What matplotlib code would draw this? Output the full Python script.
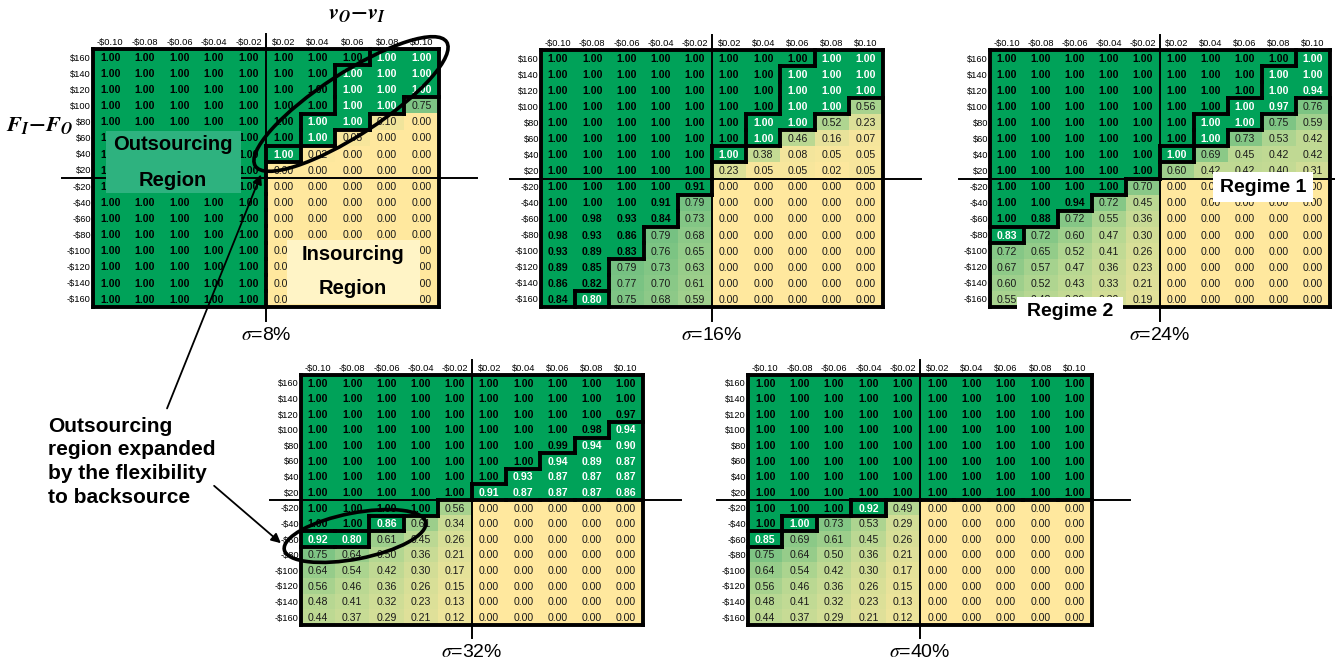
import numpy as np
import matplotlib.pyplot as plt
from matplotlib.colors import LinearSegmentedColormap, ListedColormap
from matplotlib.collections import LineCollection
from matplotlib.patches import Ellipse, Rectangle

plt.rcParams['font.family'] = ['Liberation Sans', 'DejaVu Sans']

W, H = 1335, 664

col_labels = [r'-\$0.10', r'-\$0.08', r'-\$0.06', r'-\$0.04', r'-\$0.02',
              r'\$0.02', r'\$0.04', r'\$0.06', r'\$0.08', r'\$0.10']
row_labels = [r'\$160', r'\$140', r'\$120', r'\$100', r'\$80', r'\$60', r'\$40', r'\$20',
              r'-\$20', r'-\$40', r'-\$60', r'-\$80', r'-\$100', r'-\$120', r'-\$140', r'-\$160']

# probability of outsourcing, sigma = 8%
vals_8 = [
    [1.00, 1.00, 1.00, 1.00, 1.00, 1.00, 1.00, 1.00, 1.00, 1.00],
    [1.00, 1.00, 1.00, 1.00, 1.00, 1.00, 1.00, 1.00, 1.00, 1.00],
    [1.00, 1.00, 1.00, 1.00, 1.00, 1.00, 1.00, 1.00, 1.00, 1.00],
    [1.00, 1.00, 1.00, 1.00, 1.00, 1.00, 1.00, 1.00, 1.00, 0.75],
    [1.00, 1.00, 1.00, 1.00, 1.00, 1.00, 1.00, 1.00, 0.10, 0.00],
    [1.00, 1.00, 1.00, 1.00, 1.00, 1.00, 1.00, 0.05, 0.00, 0.00],
    [1.00, 1.00, 1.00, 1.00, 1.00, 1.00, 0.02, 0.00, 0.00, 0.00],
    [1.00, 1.00, 1.00, 1.00, 1.00, 0.00, 0.00, 0.00, 0.00, 0.00],
    [1.00, 1.00, 1.00, 1.00, 1.00, 0.00, 0.00, 0.00, 0.00, 0.00],
    [1.00, 1.00, 1.00, 1.00, 1.00, 0.00, 0.00, 0.00, 0.00, 0.00],
    [1.00, 1.00, 1.00, 1.00, 1.00, 0.00, 0.00, 0.00, 0.00, 0.00],
    [1.00, 1.00, 1.00, 1.00, 1.00, 0.00, 0.00, 0.00, 0.00, 0.00],
    [1.00, 1.00, 1.00, 1.00, 1.00, 0.00, 0.00, 0.00, 0.00, 0.00],
    [1.00, 1.00, 1.00, 1.00, 1.00, 0.00, 0.00, 0.00, 0.00, 0.00],
    [1.00, 1.00, 1.00, 1.00, 1.00, 0.00, 0.00, 0.00, 0.00, 0.00],
    [1.00, 1.00, 1.00, 1.00, 1.00, 0.00, 0.00, 0.00, 0.00, 0.00],
]
# A = outsourcing region (bold black), B = expanded region (bold white), C = other
regions_8 = ['AAAAAAAABB', 'AAAAAAABBB', 'AAAAAAABBB', 'AAAAAAABBC',
             'AAAAAABBCC', 'AAAAAABCCC', 'AAAAABCCCC', 'AAAAACCCCC',
             'AAAAACCCCC', 'AAAAACCCCC', 'AAAAACCCCC', 'AAAAACCCCC',
             'AAAAACCCCC', 'AAAAACCCCC', 'AAAAACCCCC', 'AAAAACCCCC']

vals_16 = [
    [1.00, 1.00, 1.00, 1.00, 1.00, 1.00, 1.00, 1.00, 1.00, 1.00],
    [1.00, 1.00, 1.00, 1.00, 1.00, 1.00, 1.00, 1.00, 1.00, 1.00],
    [1.00, 1.00, 1.00, 1.00, 1.00, 1.00, 1.00, 1.00, 1.00, 1.00],
    [1.00, 1.00, 1.00, 1.00, 1.00, 1.00, 1.00, 1.00, 1.00, 0.56],
    [1.00, 1.00, 1.00, 1.00, 1.00, 1.00, 1.00, 1.00, 0.52, 0.23],
    [1.00, 1.00, 1.00, 1.00, 1.00, 1.00, 1.00, 0.46, 0.16, 0.07],
    [1.00, 1.00, 1.00, 1.00, 1.00, 1.00, 0.38, 0.08, 0.05, 0.05],
    [1.00, 1.00, 1.00, 1.00, 1.00, 0.23, 0.05, 0.05, 0.02, 0.05],
    [1.00, 1.00, 1.00, 1.00, 0.91, 0.00, 0.00, 0.00, 0.00, 0.00],
    [1.00, 1.00, 1.00, 0.91, 0.79, 0.00, 0.00, 0.00, 0.00, 0.00],
    [1.00, 0.98, 0.93, 0.84, 0.73, 0.00, 0.00, 0.00, 0.00, 0.00],
    [0.98, 0.93, 0.86, 0.79, 0.68, 0.00, 0.00, 0.00, 0.00, 0.00],
    [0.93, 0.89, 0.83, 0.76, 0.65, 0.00, 0.00, 0.00, 0.00, 0.00],
    [0.89, 0.85, 0.79, 0.73, 0.63, 0.00, 0.00, 0.00, 0.00, 0.00],
    [0.86, 0.82, 0.77, 0.70, 0.61, 0.00, 0.00, 0.00, 0.00, 0.00],
    [0.84, 0.80, 0.75, 0.68, 0.59, 0.00, 0.00, 0.00, 0.00, 0.00],
]
regions_16 = ['AAAAAAAABB', 'AAAAAAABBB', 'AAAAAAABBB', 'AAAAAAABBC',
              'AAAAAABBCC', 'AAAAAABCCC', 'AAAAABCCCC', 'AAAAACCCCC',
              'AAAAACCCCC', 'AAAACCCCCC', 'AAAACCCCCC', 'AAACCCCCCC',
              'AAACCCCCCC', 'AACCCCCCCC', 'AACCCCCCCC', 'ABCCCCCCCC']

vals_24 = [
    [1.00, 1.00, 1.00, 1.00, 1.00, 1.00, 1.00, 1.00, 1.00, 1.00],
    [1.00, 1.00, 1.00, 1.00, 1.00, 1.00, 1.00, 1.00, 1.00, 1.00],
    [1.00, 1.00, 1.00, 1.00, 1.00, 1.00, 1.00, 1.00, 1.00, 0.94],
    [1.00, 1.00, 1.00, 1.00, 1.00, 1.00, 1.00, 1.00, 0.97, 0.76],
    [1.00, 1.00, 1.00, 1.00, 1.00, 1.00, 1.00, 1.00, 0.75, 0.59],
    [1.00, 1.00, 1.00, 1.00, 1.00, 1.00, 1.00, 0.73, 0.53, 0.42],
    [1.00, 1.00, 1.00, 1.00, 1.00, 1.00, 0.69, 0.45, 0.42, 0.42],
    [1.00, 1.00, 1.00, 1.00, 1.00, 0.60, 0.42, 0.42, 0.40, 0.31],
    [1.00, 1.00, 1.00, 1.00, 0.70, 0.00, 0.00, 0.00, 0.00, 0.00],
    [1.00, 1.00, 0.94, 0.72, 0.45, 0.00, 0.00, 0.00, 0.00, 0.00],
    [1.00, 0.88, 0.72, 0.55, 0.36, 0.00, 0.00, 0.00, 0.00, 0.00],
    [0.83, 0.72, 0.60, 0.47, 0.30, 0.00, 0.00, 0.00, 0.00, 0.00],
    [0.72, 0.65, 0.52, 0.41, 0.26, 0.00, 0.00, 0.00, 0.00, 0.00],
    [0.67, 0.57, 0.47, 0.36, 0.23, 0.00, 0.00, 0.00, 0.00, 0.00],
    [0.60, 0.52, 0.43, 0.33, 0.21, 0.00, 0.00, 0.00, 0.00, 0.00],
    [0.55, 0.48, 0.39, 0.30, 0.19, 0.00, 0.00, 0.00, 0.00, 0.00],
]
regions_24 = ['AAAAAAAAAB', 'AAAAAAAABB', 'AAAAAAAABB', 'AAAAAAABBC',
              'AAAAAABBCC', 'AAAAAABCCC', 'AAAAABCCCC', 'AAAAACCCCC',
              'AAAACCCCCC', 'AAACCCCCCC', 'AACCCCCCCC', 'BCCCCCCCCC',
              'CCCCCCCCCC', 'CCCCCCCCCC', 'CCCCCCCCCC', 'CCCCCCCCCC']

vals_32 = [
    [1.00, 1.00, 1.00, 1.00, 1.00, 1.00, 1.00, 1.00, 1.00, 1.00],
    [1.00, 1.00, 1.00, 1.00, 1.00, 1.00, 1.00, 1.00, 1.00, 1.00],
    [1.00, 1.00, 1.00, 1.00, 1.00, 1.00, 1.00, 1.00, 1.00, 0.97],
    [1.00, 1.00, 1.00, 1.00, 1.00, 1.00, 1.00, 1.00, 0.98, 0.94],
    [1.00, 1.00, 1.00, 1.00, 1.00, 1.00, 1.00, 0.99, 0.94, 0.90],
    [1.00, 1.00, 1.00, 1.00, 1.00, 1.00, 1.00, 0.94, 0.89, 0.87],
    [1.00, 1.00, 1.00, 1.00, 1.00, 1.00, 0.93, 0.87, 0.87, 0.87],
    [1.00, 1.00, 1.00, 1.00, 1.00, 0.91, 0.87, 0.87, 0.87, 0.86],
    [1.00, 1.00, 1.00, 1.00, 0.56, 0.00, 0.00, 0.00, 0.00, 0.00],
    [1.00, 1.00, 0.86, 0.61, 0.34, 0.00, 0.00, 0.00, 0.00, 0.00],
    [0.92, 0.80, 0.61, 0.45, 0.26, 0.00, 0.00, 0.00, 0.00, 0.00],
    [0.75, 0.64, 0.50, 0.36, 0.21, 0.00, 0.00, 0.00, 0.00, 0.00],
    [0.64, 0.54, 0.42, 0.30, 0.17, 0.00, 0.00, 0.00, 0.00, 0.00],
    [0.56, 0.46, 0.36, 0.26, 0.15, 0.00, 0.00, 0.00, 0.00, 0.00],
    [0.48, 0.41, 0.32, 0.23, 0.13, 0.00, 0.00, 0.00, 0.00, 0.00],
    [0.44, 0.37, 0.29, 0.21, 0.12, 0.00, 0.00, 0.00, 0.00, 0.00],
]
regions_32 = ['AAAAAAAAAA', 'AAAAAAAAAA', 'AAAAAAAAAA', 'AAAAAAAAAB',
              'AAAAAAAABB', 'AAAAAAABBB', 'AAAAAABBBB', 'AAAAABBBBB',
              'AAAACCCCCC', 'AABCCCCCCC', 'BBCCCCCCCC', 'CCCCCCCCCC',
              'CCCCCCCCCC', 'CCCCCCCCCC', 'CCCCCCCCCC', 'CCCCCCCCCC']

vals_40 = [
    [1.00, 1.00, 1.00, 1.00, 1.00, 1.00, 1.00, 1.00, 1.00, 1.00],
    [1.00, 1.00, 1.00, 1.00, 1.00, 1.00, 1.00, 1.00, 1.00, 1.00],
    [1.00, 1.00, 1.00, 1.00, 1.00, 1.00, 1.00, 1.00, 1.00, 1.00],
    [1.00, 1.00, 1.00, 1.00, 1.00, 1.00, 1.00, 1.00, 1.00, 1.00],
    [1.00, 1.00, 1.00, 1.00, 1.00, 1.00, 1.00, 1.00, 1.00, 1.00],
    [1.00, 1.00, 1.00, 1.00, 1.00, 1.00, 1.00, 1.00, 1.00, 1.00],
    [1.00, 1.00, 1.00, 1.00, 1.00, 1.00, 1.00, 1.00, 1.00, 1.00],
    [1.00, 1.00, 1.00, 1.00, 1.00, 1.00, 1.00, 1.00, 1.00, 1.00],
    [1.00, 1.00, 1.00, 0.92, 0.49, 0.00, 0.00, 0.00, 0.00, 0.00],
    [1.00, 1.00, 0.73, 0.53, 0.29, 0.00, 0.00, 0.00, 0.00, 0.00],
    [0.85, 0.69, 0.61, 0.45, 0.26, 0.00, 0.00, 0.00, 0.00, 0.00],
    [0.75, 0.64, 0.50, 0.36, 0.21, 0.00, 0.00, 0.00, 0.00, 0.00],
    [0.64, 0.54, 0.42, 0.30, 0.17, 0.00, 0.00, 0.00, 0.00, 0.00],
    [0.56, 0.46, 0.36, 0.26, 0.15, 0.00, 0.00, 0.00, 0.00, 0.00],
    [0.48, 0.41, 0.32, 0.23, 0.13, 0.00, 0.00, 0.00, 0.00, 0.00],
    [0.44, 0.37, 0.29, 0.21, 0.12, 0.00, 0.00, 0.00, 0.00, 0.00],
]
regions_40 = ['AAAAAAAAAA', 'AAAAAAAAAA', 'AAAAAAAAAA', 'AAAAAAAAAA',
              'AAAAAAAAAA', 'AAAAAAAAAA', 'AAAAAAAAAA', 'AAAAAAAAAA',
              'AAABCCCCCC', 'ABCCCCCCCC', 'BCCCCCCCCC', 'CCCCCCCCCC',
              'CCCCCCCCCC', 'CCCCCCCCCC', 'CCCCCCCCCC', 'CCCCCCCCCC']

sigmas = ['8%', '16%', '24%', '32%', '40%']

DARK = '#00A259'
cmap = LinearSegmentedColormap.from_list('yg', ['#FFE89E', '#B4D792', '#4AB377'])

fig = plt.figure(figsize=(W / 100, H / 100), dpi=100)


def draw_panel(left, top, w, h, vals, regions, sigma):
    ax = fig.add_axes([left / W, 1 - (top + h) / H, w / W, h / H])
    v = np.array(vals)
    nr, nc = v.shape
    ax.imshow(v, cmap=cmap, vmin=0, vmax=1, extent=(0, nc, nr, 0),
              aspect='auto', interpolation='nearest')
    strong = np.array([[c in 'AB' for c in r] for r in regions])
    ax.imshow(np.ma.masked_where(~strong, v), cmap=ListedColormap([DARK]),
              extent=(0, nc, nr, 0), aspect='auto', interpolation='nearest')
    ax.set_xlim(0, nc)
    ax.set_ylim(nr, 0)

    ax.set_xticks(np.arange(nc) + 0.5)
    ax.set_xticklabels(col_labels, fontsize=6.7)
    ax.set_yticks(np.arange(nr) + 0.5)
    ax.set_yticklabels(row_labels, fontsize=6.7)
    ax.xaxis.tick_top()
    ax.tick_params(length=0, pad=1.5)
    for s in ax.spines.values():
        s.set_visible(False)

    for i in range(nr):
        for j in range(nc):
            c = regions[i][j]
            if c == 'A':
                kw = dict(color='black', fontweight='bold')
            elif c == 'B':
                kw = dict(color='white', fontweight='bold')
            else:
                kw = dict(color='#1a1a1a')
            ax.text(j + 0.5, i + 0.55, f'{v[i, j]:.2f}', ha='center', va='center',
                    fontsize=7.6, **kw)

    # thick outlines around the two regions
    segs = []
    for i in range(nr):
        for j in range(nc):
            c = regions[i][j]
            if j < nc - 1:
                n = regions[i][j + 1]
                if n != c and (c in 'AB' or n in 'AB'):
                    segs.append([(j + 1, i), (j + 1, i + 1)])
            if i < nr - 1:
                n = regions[i + 1][j]
                if n != c and (c in 'AB' or n in 'AB'):
                    segs.append([(j, i + 1), (j + 1, i + 1)])
    segs += [[(0, 0), (nc, 0)], [(nc, 0), (nc, nr)], [(nc, nr), (0, nr)], [(0, nr), (0, 0)]]
    ax.add_collection(LineCollection(segs, colors='black', linewidths=2.8,
                                     capstyle='projecting', clip_on=False, zorder=5))

    # axis cross
    ax.plot([nc / 2, nc / 2], [-0.95, nr + 0.85], color='black', lw=1.4,
            clip_on=False, zorder=6)
    ax.plot([-0.9, nc + 1.1], [nr / 2, nr / 2], color='black', lw=1.4,
            clip_on=False, zorder=6)
    ax.text(nc / 2, nr + 1.75, r'$\sigma$=' + sigma, ha='center', va='center',
            fontsize=14, math_fontfamily='stix')
    return ax


draw_panel(93, 49, 346, 258, vals_8, regions_8, sigmas[0])
draw_panel(541, 50, 342, 257, vals_16, regions_16, sigmas[1])
draw_panel(990, 50, 340, 257, vals_24, regions_24, sigmas[2])
draw_panel(301, 375, 342, 250, vals_32, regions_32, sigmas[3])
draw_panel(748, 375, 344, 250, vals_40, regions_40, sigmas[4])

# overlay for annotations, in pixel coordinates
ov = fig.add_axes([0, 0, 1, 1], zorder=10)
ov.set_xlim(0, W)
ov.set_ylim(H, 0)
ov.axis('off')
ov.patch.set_alpha(0)

ov.text(357, 14, r'$\mathbfit{v_O} \mathbf{-} \mathbfit{v_I}$', ha='center', va='center',
        fontsize=16, math_fontfamily='stix')
ov.text(40, 126, r'$\mathbfit{F_I} \mathbf{-} \mathbfit{F_O}$', ha='center', va='center',
        fontsize=16, math_fontfamily='stix')

ov.add_patch(Rectangle((106, 131), 135, 62, facecolor='#2EB27F', edgecolor='none'))
ov.text(173, 144, 'Outsourcing', ha='center', va='center', fontsize=14.5, fontweight='bold')
ov.text(173, 180, 'Region', ha='center', va='center', fontsize=14.5, fontweight='bold')

ov.add_patch(Rectangle((287, 240), 133, 64, facecolor='#FFF4C6', edgecolor='none'))
ov.text(353, 254, 'Insourcing', ha='center', va='center', fontsize=14.5, fontweight='bold')
ov.text(353, 289, 'Region', ha='center', va='center', fontsize=14.5, fontweight='bold')

ov.add_patch(Rectangle((1213, 172), 100, 30, facecolor='white', edgecolor='none'))
ov.text(1263, 187, 'Regime 1', ha='center', va='center', fontsize=14, fontweight='bold')
ov.add_patch(Rectangle((1017, 297), 106, 27, facecolor='white', edgecolor='none'))
ov.text(1070, 311, 'Regime 2', ha='center', va='center', fontsize=14, fontweight='bold')

ov.add_patch(Ellipse((351, 104), 228, 62, angle=-33, fill=False, lw=2.6, edgecolor='black'))
ov.add_patch(Ellipse((355, 536), 144, 46, angle=-11, fill=False, lw=2.6, edgecolor='black'))

note_lines = ['Outsourcing', 'region expanded', 'by the flexibility', 'to backsource']
for k, line in enumerate(note_lines):
    ov.text(48, 426 + 23.7 * k, line, ha='left', va='center', fontsize=15, fontweight='bold')
ov.annotate('', xy=(262, 172), xytext=(166, 411),
            arrowprops=dict(arrowstyle='-|>', color='black', lw=1.3, mutation_scale=14))
ov.annotate('', xy=(283, 545), xytext=(212, 484),
            arrowprops=dict(arrowstyle='-|>', color='black', lw=1.3, mutation_scale=14))

fig.savefig('out.png', dpi=100)
